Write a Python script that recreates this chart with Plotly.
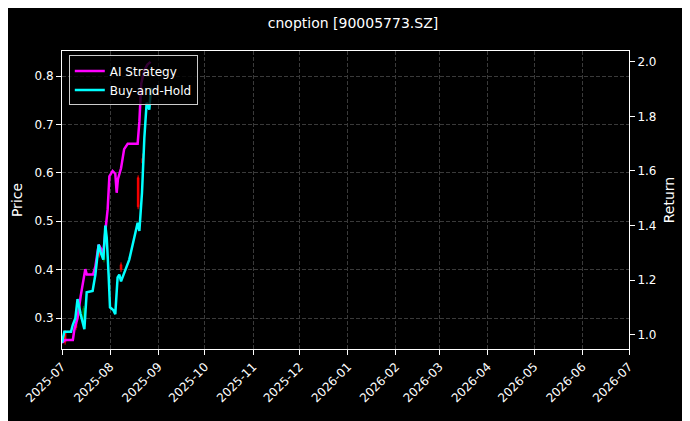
import pandas as pd
import plotly.graph_objects as go

start = pd.Timestamp("2025-07-01")

# AI strategy return curve (day offset from 2025-07-01, value)
ai_days = [0, 2, 7, 8, 10, 12, 15, 16, 20, 21.5, 23.6, 26.6, 28.3, 29.4, 30.5, 32.6, 34.3, 35.2,
           36, 38, 40, 42.3, 47.6, 48.7, 49.8, 51, 53, 55, 57]
ai_ret = [0.97, 0.98, 0.98, 1.02, 1.06, 1.14, 1.24, 1.22, 1.22, 1.25, 1.33, 1.30, 1.40, 1.46, 1.58,
          1.60, 1.59, 1.52, 1.57, 1.61, 1.68, 1.70, 1.70, 1.70, 1.78, 1.92, 1.97, 1.99, 2.00]

# Buy-and-hold return curve
bh_days = [0, 1.5, 5.8, 6.9, 8.6, 10, 12, 14.4, 15.9, 19.7, 21.5, 23.6, 25, 26.6, 27.9, 28.8, 30,
           30.9, 33, 34.3, 35.8, 36.9, 38, 43.3, 48.7, 49.8, 51.5, 53, 54.5, 56.2, 57.3]
bh_ret = [0.97, 1.01, 1.01, 1.035, 1.06, 1.13, 1.075, 1.02, 1.155, 1.16, 1.22, 1.33, 1.30, 1.275,
          1.40, 1.355, 1.22, 1.10, 1.09, 1.075, 1.21, 1.22, 1.195, 1.275, 1.41, 1.38, 1.52, 1.72,
          1.85, 1.825, 1.905]

# a few visible candles (price axis)
c_days = [2, 9, 11, 14, 24, 27, 38, 49, 52]
c_open = [0.27, 0.29, 0.31, 0.30, 0.44, 0.42, 0.41, 0.59, 0.63]
c_close = [0.25, 0.28, 0.33, 0.32, 0.43, 0.44, 0.40, 0.53, 0.62]
c_high = [0.275, 0.295, 0.335, 0.325, 0.445, 0.445, 0.415, 0.595, 0.64]
c_low = [0.245, 0.275, 0.305, 0.295, 0.425, 0.415, 0.395, 0.525, 0.61]

def to_dates(days):
    return [start + pd.Timedelta(hours=d * 24) for d in days]

fig = go.Figure()
fig.add_trace(go.Candlestick(
    x=to_dates(c_days), open=c_open, high=c_high, low=c_low, close=c_close,
    increasing=dict(line=dict(color="green", width=1), fillcolor="green"),
    decreasing=dict(line=dict(color="red", width=1), fillcolor="red"),
    whiskerwidth=0, showlegend=False, yaxis="y"))
fig.add_trace(go.Scatter(x=to_dates(ai_days), y=ai_ret, mode="lines", name="AI Strategy",
                         line=dict(color="#ff00ff", width=2.5), yaxis="y2"))
fig.add_trace(go.Scatter(x=to_dates(bh_days), y=bh_ret, mode="lines", name="Buy-and-Hold",
                         line=dict(color="#00ffff", width=2.5), yaxis="y2"))

grid = dict(showgrid=True, gridcolor="#3a3a3a", griddash="4px,2px", gridwidth=0.5)
fig.update_layout(
    width=690, height=421,
    paper_bgcolor="black", plot_bgcolor="black",
    font=dict(family="DejaVu Sans", color="white", size=12),
    title=dict(text="cnoption [90005773.SZ]", x=0.5, xanchor="center", y=0.965,
               yanchor="middle", font=dict(size=14)),
    margin=dict(l=54, r=69, t=43, b=80, autoexpand=False),
    xaxis=dict(range=["2025-07-01", "2026-07-01"], dtick="M1", tickformat="%Y-%m",
               tickangle=-45, rangeslider=dict(visible=False), showline=True, linecolor="white",
               mirror=True, ticks="outside", tickcolor="white", automargin=False, **grid),
    yaxis=dict(title=dict(text="Price", standoff=8), range=[0.236, 0.852], dtick=0.1,
               tickformat=".1f", showline=True, linecolor="white", ticks="outside",
               tickcolor="white", automargin=False, **grid),
    yaxis2=dict(title=dict(text="Return", standoff=8), range=[0.947, 2.04], dtick=0.2,
                tickformat=".1f", overlaying="y", side="right", showgrid=False,
                showline=True, linecolor="white", ticks="outside", tickcolor="white",
                automargin=False),
    legend=dict(x=0.012, y=0.985, xanchor="left", yanchor="top", bgcolor="rgba(0,0,0,0.8)",
                bordercolor="#ccc", borderwidth=1, font=dict(size=12)),
)
fig.write_html("out.html")
